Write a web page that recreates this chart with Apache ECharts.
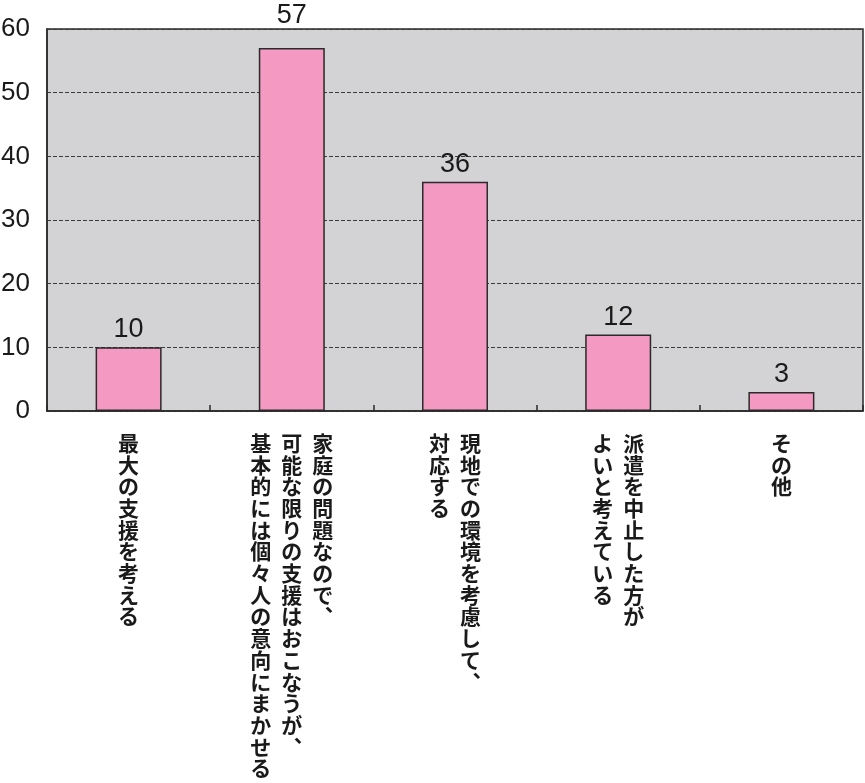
<!DOCTYPE html>
<html><head><meta charset="utf-8">
<script src="https://cdn.jsdelivr.net/npm/echarts@6/dist/echarts.min.js"></script>
<style>html,body{margin:0;padding:0;background:#fff}#c{width:865px;height:783px}</style>
</head><body><div id="c"></div>
<script>
// Each category is a list of vertical columns (read right to left)
const categories = [
  ['最大の支援を考える'],
  ['家庭の問題なので︑', '可能な限りの支援はおこなうが︑', '基本的には個々人の意向にまかせる'],
  ['現地での環境を考慮して︑', '対応する'],
  ['派遣を中止した方が', 'よいと考えている'],
  ['その他']
];
const values = [10, 57, 36, 12, 3];
const yTicks = [0, 10, 20, 30, 40, 50, 60];

const catNames = categories.map(c => c.join('|'));
const numFont = '"Liberation Sans", Arial, sans-serif';

function verticalText(name) {
  const cols = name.split('|').map(s => Array.from(s));
  const rows = Math.max(...cols.map(c => c.length));
  const lines = [];
  for (let i = 0; i < rows; i++) {
    let line = '';
    for (let j = cols.length - 1; j >= 0; j--) {
      const ch = cols[j][i] || '　';
      line += '{c|' + ch + '}';
    }
    lines.push(line);
  }
  return lines.join('\n');
}

const barData = values.map((v, i) => (i === 1 ? { value: v, label: { distance: 19 } } : v));

const chart = echarts.init(document.getElementById('c'));
chart.setOption({
  animation: false,
  backgroundColor: '#ffffff',
  grid: {
    left: 47, right: 2, top: 29, bottom: 372,
    outerBoundsMode: 'none',
    containLabel: false,
    show: true, backgroundColor: '#d3d3d5', borderColor: '#2a2a2a', borderWidth: 1.5
  },
  xAxis: {
    type: 'category',
    data: catNames,
    axisLine: { lineStyle: { color: '#2a2a2a', width: 1.5 } },
    axisTick: { show: true, inside: true, length: 6, lineStyle: { color: '#2a2a2a', width: 1.5 } },
    axisLabel: {
      interval: 0,
      margin: 21,
      formatter: v => verticalText(v),
      rich: {
        c: {
          width: 31, align: 'center', fontSize: 21, lineHeight: 21.7, fontWeight: 'bold',
          fontFamily: '"Noto Sans CJK JP"', color: '#1a1a1a'
        }
      }
    }
  },
  yAxis: {
    type: 'value',
    min: yTicks[0], max: yTicks[yTicks.length - 1], interval: 10,
    axisLine: { show: true, lineStyle: { color: '#2a2a2a', width: 1.5 } },
    axisTick: { show: false },
    axisLabel: {
      margin: 17, fontSize: 26, color: '#1a1a1a',
      fontFamily: numFont
    },
    splitLine: { show: true, lineStyle: { color: '#3a3a3a', type: [4, 2], width: 1 } }
  },
  series: [{
    type: 'bar',
    data: barData,
    barWidth: 66,
    itemStyle: { color: '#f49ac2', borderColor: '#2a2a2a', borderWidth: 1.5 },
    label: {
      show: true, position: 'top', distance: 4, fontSize: 27, color: '#1a1a1a',
      fontFamily: numFont
    }
  }]
});
</script>
</body></html>
